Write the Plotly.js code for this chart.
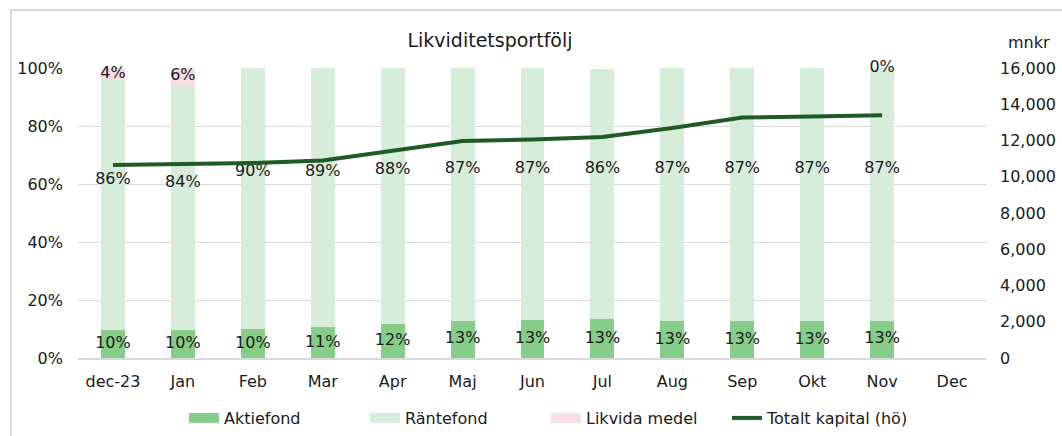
<!DOCTYPE html>
<html>
<head>
<meta charset="utf-8">
<script src="https://cdn.plot.ly/plotly-3.0.1.min.js"></script>
<style>html,body{margin:0;padding:0;background:#fff;}#chart{width:1062px;height:436px;}</style>
</head>
<body>
<div id="chart"></div>
<script>
const months = ['dec-23','Jan','Feb','Mar','Apr','Maj','Jun','Jul','Aug','Sep','Okt','Nov','Dec'];
const aktiefond = [0.096, 0.098, 0.100, 0.106, 0.117, 0.129, 0.130, 0.133, 0.127, 0.126, 0.127, 0.129, null];
const rantefond = [0.861, 0.844, 0.900, 0.894, 0.883, 0.871, 0.870, 0.864, 0.873, 0.874, 0.873, 0.871, null];
const likvida   = [0.043, 0.058, null, null, null, null, null, null, null, null, null, 0, null];
const totalt    = [10650, 10700, 10760, 10900, 11420, 11970, 12050, 12190, 12690, 13270, 13320, 13400, null];

const FONT = 'DejaVu Sans, Verdana, sans-serif';
const TXT = '#1a1a1a';
const pct = v => (v === null || v === undefined) ? '' : Math.round(v * 100) + '%';

const cAkt = '#86cd89', cRan = '#d6eed9', cLik = '#fadce4', cTot = '#1f5a27';
const LBL = {family:FONT, size:16, color:TXT};

// legend-only proxies give wide rectangular swatches like the original
const proxy = (name, color, width) => ({type:'scatter', mode:'lines', name:name, x:[null], y:[null],
  line:{color:color, width:width}, hoverinfo:'skip', showlegend:true});

const traces = [
  {type:'bar', name:'Aktiefond', x:months, y:aktiefond, marker:{color:cAkt}, hoverinfo:'skip', showlegend:false},
  {type:'bar', name:'Räntefond', x:months, y:rantefond, marker:{color:cRan}, hoverinfo:'skip', showlegend:false},
  {type:'bar', name:'Likvida medel', x:months, y:likvida, marker:{color:cLik}, hoverinfo:'skip', showlegend:false},
  {type:'scatter', mode:'lines', name:'Totalt kapital (hö)', x:months, y:totalt, yaxis:'y2',
   line:{color:cTot, width:4}, hoverinfo:'skip', showlegend:false},
  proxy('Aktiefond', cAkt, 10),
  proxy('Räntefond', cRan, 10),
  proxy('Likvida medel', cLik, 10),
  proxy('Totalt kapital (hö)', cTot, 4),
  // labels
  {type:'scatter', mode:'text', showlegend:false, cliponaxis:false, x:months,
   y:aktiefond.map(v => v === null ? null : v / 2),
   text:aktiefond.map(pct), textposition:'middle center', textfont:LBL, hoverinfo:'skip'},
  {type:'scatter', mode:'text', showlegend:false, cliponaxis:false, x:months,
   y:rantefond.map((v, i) => v === null ? null : aktiefond[i] + v * 0.6),
   text:rantefond.map(pct), textposition:'middle center', textfont:LBL, hoverinfo:'skip'},
  {type:'scatter', mode:'text', showlegend:false, cliponaxis:false, x:months,
   y:likvida.map((v, i) => v === null ? null : aktiefond[i] + rantefond[i] + v / 2),
   text:likvida.map(pct), textposition:'middle center', textfont:LBL, hoverinfo:'skip'}
];

const layout = {
  width:1062, height:436,
  margin:{l:78, r:75, t:68, b:78},
  paper_bgcolor:'#fff', plot_bgcolor:'#fff',
  font:{family:FONT, size:16, color:TXT},
  barmode:'stack', bargap:0.657,
  showlegend:true,
  title:{text:'Likviditetsportfölj', font:{family:FONT, size:19, color:TXT},
         x:490/1062, xanchor:'center', xref:'container', y:1-40/436, yanchor:'middle', yref:'container'},
  xaxis:{type:'category', range:[-0.5, 12.5], autorange:false, showgrid:false, showline:true, linecolor:'#d9d9d9', linewidth:2,
         ticks:'', ticklabelstandoff:8, tickfont:{family:FONT, size:16, color:TXT}, fixedrange:true},
  yaxis:{range:[0,1], dtick:0.2, tickformat:'.0%', showgrid:true, gridcolor:'#d9d9d9', gridwidth:1,
         zeroline:false, showline:false, ticks:'', ticklabelstandoff:14, tickfont:{family:FONT, size:16, color:TXT}},
  yaxis2:{range:[0,16000], dtick:2000, tickformat:',d', overlaying:'y', side:'right', showgrid:false,
          zeroline:false, showline:false, ticks:'', ticklabelstandoff:12, tickfont:{family:FONT, size:16, color:TXT}},
  legend:{orientation:'h', x:(546-78)/909, xanchor:'center', xref:'paper', y:1-418/436, yanchor:'middle', yref:'container',
          font:{family:FONT, size:16, color:TXT}, entrywidth:136, entrywidthmode:'pixels', traceorder:'normal'},
  annotations:[{text:'mnkr', xref:'paper', yref:'paper', x:(1029-78)/909, y:(358-42)/290, xanchor:'center', yanchor:'middle',
                showarrow:false, font:{family:FONT, size:16, color:TXT}}],
  shapes:[{type:'rect', xref:'paper', yref:'paper', x0:(11-78)/909, x1:1.2, y0:-0.4, y1:(358-10)/290,
           line:{color:'#d9d9d9', width:2}, fillcolor:'rgba(0,0,0,0)', layer:'below'}]
};

Plotly.newPlot('chart', traces, layout, {displayModeBar:false, staticPlot:true});
</script>
</body>
</html>
